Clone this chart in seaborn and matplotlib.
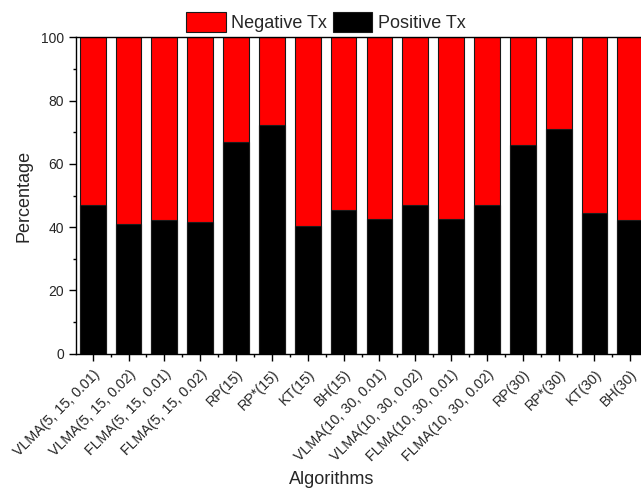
import matplotlib
matplotlib.use("Agg")
import matplotlib.pyplot as plt
import seaborn as sns
import pandas as pd
from matplotlib.patches import Patch
from matplotlib.ticker import MultipleLocator, FixedLocator

algorithms = [
    "VLMA(5, 15, 0.01)", "VLMA(5, 15, 0.02)", "FLMA(5, 15, 0.01)", "FLMA(5, 15, 0.02)",
    "RP(15)", "RP*(15)", "KT(15)", "BH(15)",
    "VLMA(10, 30, 0.01)", "VLMA(10, 30, 0.02)", "FLMA(10, 30, 0.01)", "FLMA(10, 30, 0.02)",
    "RP(30)", "RP*(30)", "KT(30)", "BH(30)",
]
positive_pct = [47.0, 41.0, 42.2, 41.6, 66.8, 72.2, 40.4, 45.4,
                42.6, 47.0, 42.6, 47.0, 66.0, 71.1, 44.5, 42.3]
negative_pct = [100 - p for p in positive_pct]

df = pd.DataFrame({
    "Algorithm": algorithms,
    "Positive": positive_pct,
    "Total": [p + n for p, n in zip(positive_pct, negative_pct)],
})

sns.set_style("ticks")
plt.rcParams["font.family"] = ["Liberation Sans", "DejaVu Sans"]

fig = plt.figure(figsize=(6.41, 4.91), dpi=100)
ax = fig.add_axes([76 / 641, 137.3 / 491, 571 / 641, 316.4 / 491])

bar_w = 0.72
# stacked 100% bars: red full-height bar underneath, black positive share on top
sns.barplot(data=df, x="Algorithm", y="Total", color="#ff0000", saturation=1,
            width=bar_w, edgecolor="#1a1a1a", linewidth=0.8, ax=ax)
sns.barplot(data=df, x="Algorithm", y="Positive", color="#000000", saturation=1,
            width=bar_w, edgecolor="#1a1a1a", linewidth=0.8, ax=ax)

ax.set_xlim(-0.465, 15.465)
ax.set_ylim(0, 100)
ax.yaxis.set_major_locator(MultipleLocator(20))
ax.yaxis.set_minor_locator(MultipleLocator(10))
ax.xaxis.set_minor_locator(FixedLocator([i + 0.5 for i in range(-1, 16)]))

ax.tick_params(axis="both", which="major", length=5, width=1, direction="out",
               labelsize=10, color="black")
ax.tick_params(axis="both", which="minor", length=2.5, width=1, direction="out",
               color="black")
ax.tick_params(axis="y", which="major", pad=3.5)
ax.tick_params(axis="x", which="major", pad=4.5)
ax.set_xticks(range(len(algorithms)))
ax.set_xticklabels(algorithms, rotation=45, ha="right", rotation_mode="anchor",
                   fontsize=10.3)

for side in ["left", "bottom", "top", "right"]:
    ax.spines[side].set_linewidth(1)
    ax.spines[side].set_color("black")

ax.set_xlabel("Algorithms", fontsize=13)
ax.xaxis.set_label_coords((332 - 76) / 571, -(480 - 353.7) / 316.4)
ax.xaxis.label.set_va("center")
ax.set_ylabel("Percentage", fontsize=13, labelpad=6)

handles = [Patch(facecolor="#ff0000", edgecolor="#1a1a1a", linewidth=0.8),
           Patch(facecolor="#000000", edgecolor="#1a1a1a", linewidth=0.8)]
fig.legend(handles, ["Negative Tx", "Positive Tx"], ncol=2, frameon=False,
           loc="center", bbox_to_anchor=(326 / 641, 1 - 22 / 491),
           fontsize=13, handlelength=2.2, handleheight=1.3,
           handletextpad=0.3, columnspacing=0.3, borderaxespad=0)

fig.savefig("out.png", dpi=100)
